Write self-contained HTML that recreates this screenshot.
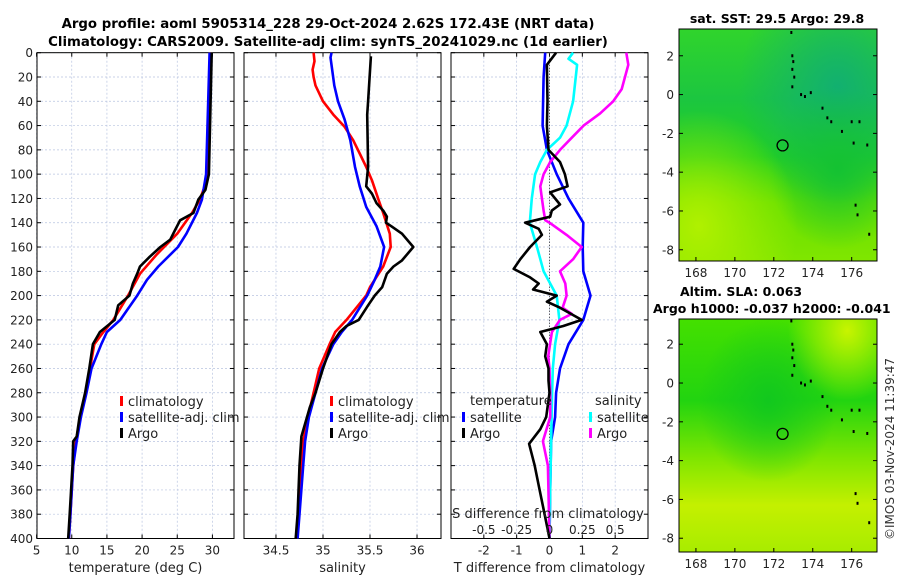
<!DOCTYPE html>
<html><head><meta charset="utf-8"><style>
body{margin:0;background:#fff}
svg{display:block;font-family:"DejaVu Sans","Liberation Sans",sans-serif}
</style></head><body>
<svg id="fig" width="900" height="580" viewBox="0 0 900 580" xmlns="http://www.w3.org/2000/svg">
<defs>
<radialGradient id="g1a" cx="0.8" cy="0.25" r="0.5"><stop offset="0" stop-color="#12b070"/><stop offset="1" stop-color="#12b070" stop-opacity="0"/></radialGradient>
<linearGradient id="g1b" x1="0" y1="0" x2="0" y2="1"><stop offset="0" stop-color="#30d42c"/><stop offset="0.3" stop-color="#1cc640"/><stop offset="0.55" stop-color="#22d020"/><stop offset="0.75" stop-color="#66e000"/><stop offset="1" stop-color="#80e600"/></linearGradient>
<radialGradient id="g1c" cx="0.1" cy="0.85" r="0.5"><stop offset="0" stop-color="#b0f000"/><stop offset="1" stop-color="#b0f000" stop-opacity="0"/></radialGradient>
<radialGradient id="g1d" cx="0.8" cy="0.6" r="0.35"><stop offset="0" stop-color="#14c232"/><stop offset="1" stop-color="#14c232" stop-opacity="0"/></radialGradient>
<linearGradient id="g2b" x1="0" y1="0" x2="0" y2="1"><stop offset="0" stop-color="#44e000"/><stop offset="0.35" stop-color="#22d410"/><stop offset="0.6" stop-color="#80e600"/><stop offset="0.8" stop-color="#c4f000"/><stop offset="1" stop-color="#a8ec00"/></linearGradient>
<radialGradient id="g2a" cx="0.45" cy="0.35" r="0.35"><stop offset="0" stop-color="#12c81e"/><stop offset="1" stop-color="#12c81e" stop-opacity="0"/></radialGradient>
<radialGradient id="g2c" cx="0.85" cy="0.05" r="0.3"><stop offset="0" stop-color="#c8f400"/><stop offset="1" stop-color="#c8f400" stop-opacity="0"/></radialGradient>
</defs>
<text x="328" y="28" text-anchor="middle" font-size="13.3" font-weight="bold">Argo profile: aoml 5905314_228 29-Oct-2024 2.62S 172.43E (NRT data)</text>
<text x="328" y="46" text-anchor="middle" font-size="13.3" font-weight="bold">Climatology: CARS2009. Satellite-adj clim: synTS_20241029.nc (1d earlier)</text>
<g id="p1"></g>
<g id="p2"></g>
<g id="p3"></g>
<g id="m1">
 <rect x="679" y="29" width="198" height="232" fill="url(#g1b)"/>
 <rect x="679" y="29" width="198" height="232" fill="url(#g1a)"/>
 <rect x="679" y="29" width="198" height="232" fill="url(#g1d)"/>
 <rect x="679" y="29" width="198" height="232" fill="url(#g1c)"/>
</g>
<g id="m2">
 <rect x="679" y="319" width="198" height="233" fill="url(#g2b)"/>
 <rect x="679" y="319" width="198" height="233" fill="url(#g2a)"/>
 <rect x="679" y="319" width="198" height="233" fill="url(#g2c)"/>
</g>
<text x="777" y="23" text-anchor="middle" font-size="12.5" font-weight="bold">sat. SST: 29.5 Argo: 29.8</text>
<text x="680" y="296" font-size="12.5" font-weight="bold">Altim. SLA: 0.063</text>
<text x="653" y="313" font-size="12.5" font-weight="bold">Argo h1000: -0.037 h2000: -0.041</text>
<text transform="translate(894,540) rotate(-90)" font-size="12" fill="#333">©IMOS 03-Nov-2024 11:39:47</text>
</svg>
<script>
// ---- data ----
const tempClimDepth=[0,100,110,121,132,149,166,182,200,220,230,240,260,280,300,320,340,380,400];
const tempClim=[29.7,29.2,28.9,28.2,27.1,25.0,22.1,19.7,18.0,15.9,14.5,13.2,12.6,12.0,11.2,10.6,10.2,9.8,9.6];
const tempSatDepth=[0,100,121,132,149,160,176,187,200,220,230,240,260,280,300,320,340,380,400];
const tempSat=[29.6,29.1,28.5,27.8,26.3,25.1,22.3,20.7,19.3,16.9,15.0,14.2,12.8,12.1,11.3,10.7,10.2,9.8,9.6];
const tempArgoDepth=[0,100,113,121,132,138,146,154,160,168,176,182,190,200,208,220,230,240,260,280,300,316,320,340,380,400];
const tempArgo=[29.9,29.5,29.0,28.0,27.3,25.4,24.7,24.0,22.6,21.1,19.7,19.3,18.7,18.2,16.6,16.1,14.0,13.0,12.5,11.9,11.1,10.7,10.2,10.1,9.7,9.5];
const salClimDepth=[0,7,14,20,27,40,51,61,72,83,94,105,121,132,149,160,176,193,200,220,230,240,260,280,300,320,340,380,400];
const salClim=[34.90,34.91,34.89,34.90,34.92,35.0,35.11,35.23,35.32,35.39,35.46,35.52,35.59,35.64,35.71,35.72,35.64,35.50,35.46,35.25,35.13,35.07,34.96,34.90,34.84,34.79,34.77,34.74,34.72];
const salSatDepth=[0,4,10,27,40,55,72,94,110,127,143,160,176,187,200,220,230,240,260,280,300,320,340,380,400];
const salSat=[35.09,35.08,35.09,35.12,35.16,35.23,35.29,35.34,35.39,35.46,35.57,35.65,35.61,35.55,35.47,35.31,35.2,35.11,34.99,34.92,34.85,34.81,34.79,34.75,34.73];
const salArgoDepth=[3,40,51,94,110,116,124,130,135,140,143,149,160,171,176,182,193,200,208,220,225,230,240,260,280,292,300,316,340,380,400];
const salArgo=[35.51,35.48,35.47,35.48,35.46,35.52,35.57,35.64,35.68,35.67,35.73,35.84,35.96,35.84,35.75,35.68,35.63,35.55,35.48,35.38,35.25,35.18,35.09,35.0,34.92,34.86,34.83,34.77,34.75,34.73,34.71];
const dTSatDepth=[0,20,60,80,100,120,140,160,180,200,220,240,260,280,300,320,360,400];
const dTSat=[-0.13,-0.18,-0.21,-0.08,0.22,0.58,1.03,1.01,1.03,1.25,1.03,0.58,0.32,0.2,0.17,0.05,0.02,0.0];
const dTArgoDepth=[0,10,40,60,80,90,100,110,115,125,130,135,140,145,150,160,170,178,185,190,195,200,205,210,220,225,230,240,250,260,270,280,300,310,322,340,360,380,400];
const dTArgo=[0.2,-0.08,-0.06,-0.08,-0.03,0.32,0.47,0.55,0.02,0.32,0.07,0.02,-0.74,-0.33,-0.23,-0.59,-0.89,-1.09,-0.59,-0.33,-0.5,0.22,-0.08,0.32,0.98,0.42,-0.28,-0.08,-0.13,-0.03,-0.03,0.0,-0.1,-0.28,-0.62,-0.45,-0.3,-0.15,0.0];
const dSSatDepth=[0,5,10,40,60,70,80,90,100,120,140,160,180,200,220,240,260,280,320,360,400];
const dSSat=[0.18,0.145,0.21,0.18,0.13,0.08,-0.02,-0.07,-0.11,-0.135,-0.15,-0.095,-0.045,0.055,0.075,0.043,0.025,0.02,0.012,0.005,0.0];
const dSArgoDepth=[0,10,30,40,50,60,70,80,90,100,110,120,130,138,140,150,160,170,180,190,200,210,215,220,230,250,260,280,300,320,340,400];
const dSArgo=[0.585,0.6,0.55,0.485,0.385,0.26,0.17,0.08,0.005,-0.045,-0.07,-0.058,-0.045,-0.032,0.0,0.13,0.245,0.18,0.08,0.12,0.13,0.1,0.17,0.08,0.018,-0.01,0.0,0.005,0.005,-0.05,-0.012,0.0];
const depthTicks=[0,20,40,60,80,100,120,140,160,180,200,220,240,260,280,300,320,340,360,380,400];
const tempTicks=[5,10,15,20,25,30];
const salTicks=[34.5,35,35.5,36];
const dTTicks=[-2,-1,0,1,2];
const dSTicks=[-0.5,-0.25,0,0.25,0.5];
const dSTickLabels=["-0.5","-0.25","0","0.25","0.5"];
const lonTicks=[168,170,172,174,176];
const latTicks=[2,0,-2,-4,-6,-8];
const argoLon=172.45, argoLat=-2.62;
const islandLon=[172.9,172.95,173.0,172.95,173.05,172.95,173.4,173.6,173.9,174.5,174.75,174.95,175.5,176.0,176.4,176.1,176.8,176.2,176.3,176.9];
const islandLat=[3.2,2.0,1.7,1.3,0.9,0.4,0.0,-0.1,0.1,-0.7,-1.2,-1.4,-1.9,-1.4,-1.4,-2.5,-2.6,-5.7,-6.2,-7.2];

// ---- helpers ----
const NS="http://www.w3.org/2000/svg";
const svg=document.getElementById('fig');
function mk(tag,attrs,parent){const e=document.createElementNS(NS,tag);for(const k in attrs)e.setAttribute(k,attrs[k]);(parent||svg).appendChild(e);return e;}
const Y0=52.7,Y1=538.5;
const yD=d=>Y0+(Y1-Y0)*d/400;
function linScale(d0,d1,r0,r1){return v=>r0+(v-d0)*(r1-r0)/(d1-d0);}

function panel(g,x0,x1,xs,xticks,xlabels,showY,xTitle){
  for(const t of xticks){
    const l=mk('line',{x1:xs(t),x2:xs(t),y1:Y0,y2:Y1,stroke:'#b8c4e0','stroke-width':0.7,'stroke-dasharray':'2,2'},g);
    
    
  }
  for(const d of depthTicks){
    const l=mk('line',{x1:x0,x2:x1,y1:yD(d),y2:yD(d),stroke:'#b8c4e0','stroke-width':0.7,'stroke-dasharray':'2,2'},g);
    
    
    mk('line',{x1:x0,x2:x0+4,y1:yD(d),y2:yD(d),stroke:'#000'},g);
    mk('line',{x1:x1-4,x2:x1,y1:yD(d),y2:yD(d),stroke:'#000'},g);
    if(showY){
      const t=mk('text',{x:x0-4,y:yD(d)+4.5,'text-anchor':'end','font-size':12,fill:'#222'},g);
      t.textContent=d;
      
      
    }
  }
  xticks.forEach((t,i)=>{
    mk('line',{x1:xs(t),x2:xs(t),y1:Y1,y2:Y1-4,stroke:'#000'},g);
    mk('line',{x1:xs(t),x2:xs(t),y1:Y0,y2:Y0+4,stroke:'#000'},g);
    const tx=mk('text',{x:xs(t),y:Y1+16,'text-anchor':'middle','font-size':12,fill:'#222'},g);
    tx.textContent=xlabels[i];
    
    
  });
  const r=mk('rect',{x:x0,y:Y0,width:x1-x0,height:Y1-Y0,fill:'none',stroke:'#000','stroke-width':1},g);
  
  
  const xt=mk('text',{x:(x0+x1)/2,y:572,'text-anchor':'middle','font-size':13,fill:'#222'},g);
  xt.textContent=xTitle;
  
  
}
function series(g,xs,depths,vals,color,name){
  const pts=vals.map((v,i)=>xs(v).toFixed(1)+','+yD(depths[i]).toFixed(1)).join(' ');
  const p=mk('polyline',{points:pts,fill:'none',stroke:color,'stroke-width':2.6,'stroke-linejoin':'round'},g);
  
  
}
function legend(g,x,y,color,label,name){
  mk('rect',{x:x,y:y-9,width:3,height:10,fill:color},g);
  const t=mk('text',{x:x+8,y:y+1,'font-size':13,fill:'#222'},g);
  t.textContent=label;
  
  
}

// ---- panel 1 ----
const g1=document.getElementById('p1');
const xT=linScale(5,33.07,36.6,234);
panel(g1,37,234,xT,tempTicks,tempTicks.map(String),true,'temperature (deg C)');
series(g1,xT,tempClimDepth,tempClim,'#f00','temp-climatology-line');
series(g1,xT,tempSatDepth,tempSat,'#00f','temp-satellite-line');
series(g1,xT,tempArgoDepth,tempArgo,'#000','temp-argo-line');
legend(g1,120,405,'#f00','climatology','legend-climatology');
legend(g1,120,421,'#00f','satellite-adj. clim','legend-satellite');
legend(g1,120,437,'#000','Argo','legend-argo');

// ---- panel 2 ----
const g2=document.getElementById('p2');
const xS=linScale(34.16,36.255,244,441);
panel(g2,244,441,xS,salTicks,salTicks.map(String),false,'salinity');
series(g2,xS,salClimDepth,salClim,'#f00','sal-climatology-line');
series(g2,xS,salSatDepth,salSat,'#00f','sal-satellite-line');
series(g2,xS,salArgoDepth,salArgo,'#000','sal-argo-line');
legend(g2,330,405,'#f00','climatology','legend-climatology');
legend(g2,330,421,'#00f','satellite-adj. clim','legend-satellite');
legend(g2,330,437,'#000','Argo','legend-argo');

// ---- panel 3 ----
const g3=document.getElementById('p3');
const xDT=linScale(-3,3,451,648);
const xDS=linScale(-0.75,0.75,451,648);
panel(g3,451,648,xDT,dTTicks,dTTicks.map(String),false,'T difference from climatology');
const zl=mk('line',{x1:xDT(0),x2:xDT(0),y1:Y0,y2:Y1,stroke:'#333','stroke-width':1,'stroke-dasharray':'1,2'},g3);


series(g3,xDT,dTSatDepth,dTSat,'#00f','dT-satellite-line');
series(g3,xDS,dSSatDepth,dSSat,'#0ff','dS-satellite-line');
series(g3,xDS,dSArgoDepth,dSArgo,'#f0f','dS-argo-line');
series(g3,xDT,dTArgoDepth,dTArgo,'#000','dT-argo-line');
let tt=mk('text',{x:470,y:405,'font-size':13,fill:'#222'},g3);tt.textContent='temperature';


tt=mk('text',{x:595,y:405,'font-size':13,fill:'#222'},g3);tt.textContent='salinity';


legend(g3,462,421,'#00f','satellite','legend-t-satellite');
legend(g3,462,437,'#000','Argo','legend-t-argo');
legend(g3,589,421,'#0ff','satellite','legend-s-satellite');
legend(g3,589,437,'#f0f','Argo','legend-s-argo');
tt=mk('text',{x:548,y:518,'text-anchor':'middle','font-size':13,fill:'#222'},g3);tt.textContent='S difference from climatology';


dSTicks.forEach((t,i)=>{
  const e=mk('text',{x:xDS(t),y:534,'text-anchor':'middle','font-size':12,fill:'#222'},g3);
  e.textContent=dSTickLabels[i];
  
  
});

// ---- maps ----
function mapAxes(g,top,bottom,latTop){
  const xL=linScale(167.13,177.3,679,877);
  const yL=v=>top+(latTop-v)*19.4;
  latTicks.forEach(t=>{
    mk('line',{x1:679,x2:683,y1:yL(t),y2:yL(t),stroke:'#000'},g);
    mk('line',{x1:873,x2:877,y1:yL(t),y2:yL(t),stroke:'#000'},g);
    const e=mk('text',{x:674,y:yL(t)+4.5,'text-anchor':'end','font-size':12,fill:'#222'},g);
    e.textContent=t;
    
    
  });
  lonTicks.forEach(t=>{
    mk('line',{x1:xL(t),x2:xL(t),y1:bottom,y2:bottom-4,stroke:'#000'},g);
    const e=mk('text',{x:xL(t),y:bottom+16,'text-anchor':'middle','font-size':12,fill:'#222'},g);
    e.textContent=t;
    
    
  });
  islandLon.forEach((lo,i)=>{
    const r=mk('rect',{x:xL(lo)-1,y:yL(islandLat[i])-1.5,width:2,height:3,fill:'#000'},g);
    
    
  });
  const c=mk('circle',{cx:xL(argoLon),cy:yL(argoLat),r:5.5,fill:'none',stroke:'#000','stroke-width':1.3},g);
  
  
  const fr=mk('rect',{x:679,y:top,width:198,height:bottom-top,fill:'none',stroke:'#000'},g);
  
  
}
mapAxes(document.getElementById('m1'),29,261,3.38);
mapAxes(document.getElementById('m2'),319,552,3.3);
</script>
</body></html>
